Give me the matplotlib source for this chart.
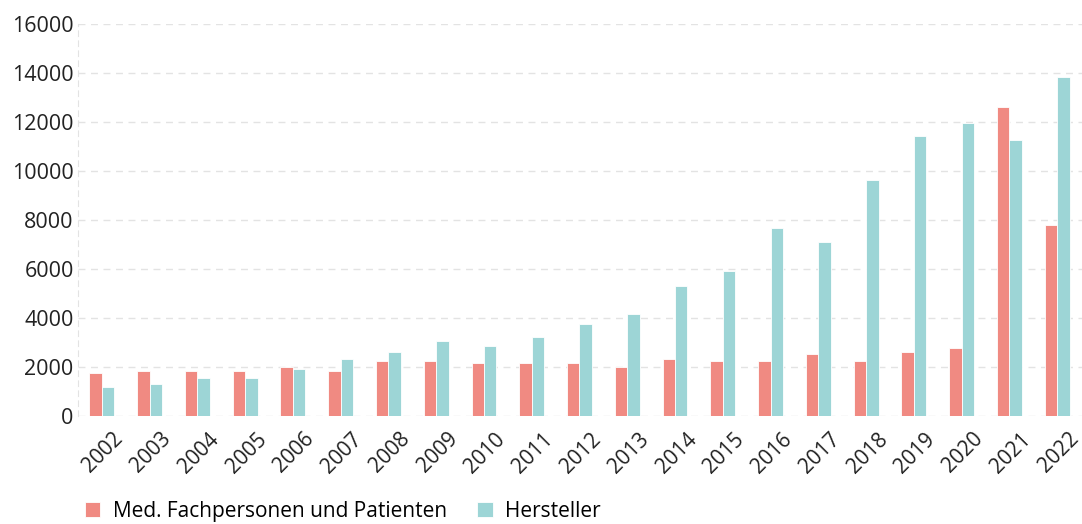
import numpy as np
import matplotlib.pyplot as plt
import matplotlib.transforms as mtransforms

plt.rcParams['font.family'] = ['Open Sans', 'DejaVu Sans']

years = [str(y) for y in range(2002, 2023)]
med_personen = [1750, 1820, 1820, 1820, 2000, 1820, 2250, 2250, 2160, 2160, 2160,
                2000, 2340, 2250, 2250, 2520, 2250, 2600, 2780, 12600, 7780]
hersteller = [1200, 1300, 1550, 1550, 1910, 2340, 2610, 3050, 2870, 3220, 3740,
              4180, 5320, 5930, 7690, 7090, 9620, 11450, 11980, 11260, 13850]

red = '#F08A82'
teal = '#9DD5D6'

fig = plt.figure(figsize=(10.82, 5.24), dpi=100)
ax = fig.add_axes([0.072, 0.206, 0.928, 0.748])

x = np.arange(len(years))
w = 0.26
ax.bar(x - w / 2, med_personen, w, color=red, edgecolor='white', linewidth=0.6,
       label='Med. Fachpersonen und Patienten', zorder=3)
ax.bar(x + w / 2, hersteller, w, color=teal, edgecolor='white', linewidth=0.6,
       label='Hersteller', zorder=3)

ax.set_xlim(-0.5, len(years) - 0.48)
ax.set_ylim(0, 16000)
ax.set_yticks(np.arange(0, 16001, 2000))
ax.yaxis.grid(True, linestyle=(0, (5, 4)), color='#e3e3e3', linewidth=1)
ax.set_axisbelow(True)

for side in ['top', 'right', 'bottom']:
    ax.spines[side].set_visible(False)
ax.spines['left'].set_linestyle((0, (5, 4)))
ax.spines['left'].set_color('#e3e3e3')

ax.set_xticks(x)
ax.set_xticklabels(years, rotation=45, ha='center', va='top', fontsize=15)
ax.tick_params(axis='x', length=0, pad=9)
ax.tick_params(axis='y', length=0, labelsize=15.5, pad=3)
# nudge the year labels a little to the right, like the original
shift = mtransforms.ScaledTranslation(1.5 / 100, 0, fig.dpi_scale_trans)
for lbl in ax.get_xticklabels():
    lbl.set_transform(lbl.get_transform() + shift)
for lbl in ax.get_xticklabels() + ax.get_yticklabels():
    lbl.set_color('#222222')

fig.legend(loc='lower left', bbox_to_anchor=(0.061, -0.032), ncol=2, frameon=False,
           fontsize=15, handlelength=0.75, handleheight=0.75, columnspacing=1.45,
           handletextpad=0.6)

fig.savefig('out.png', dpi=100)
